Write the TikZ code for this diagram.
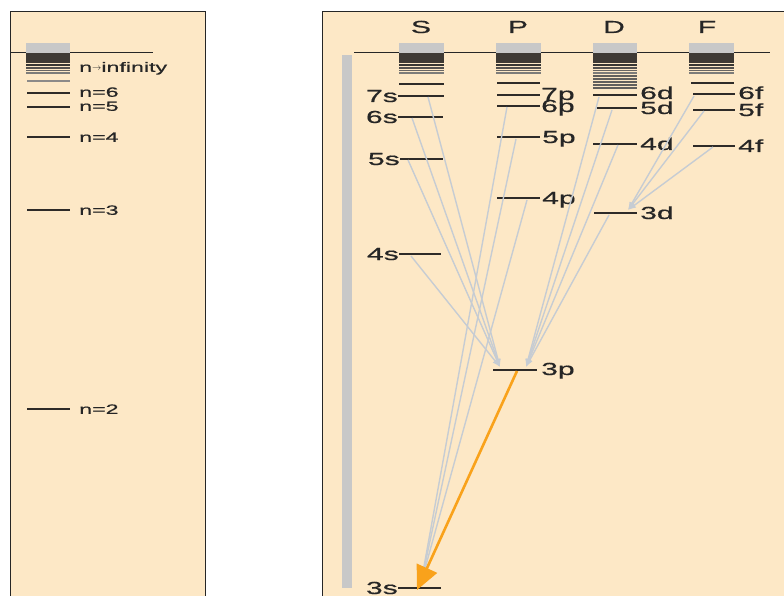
\documentclass[tikz,border=0pt]{standalone}
\usepackage{fontspec}
\setmainfont{Liberation Sans}[FakeStretch=1.72, FakeBold=0.6]
\usetikzlibrary{arrows.meta}
\definecolor{cream}{HTML}{FDE8C6}
\definecolor{boxgray}{HTML}{C8C8C8}
\definecolor{banddark}{HTML}{3E3934}
\definecolor{levc}{HTML}{2E2B28}
\definecolor{trans}{HTML}{C6CCD3}
\definecolor{orng}{HTML}{F9A21B}

% draws the continuum block of one column: grey cap, dark band, fading stripes
\newcommand\contband[2]{%
  \fill[boxgray] (#1,43) rectangle (#2,53);
  \fill[banddark] (#1,53) rectangle (#2,63);
  \draw[line width=1.5pt, draw=levc!95] (#1,65.2) -- (#2,65.2);
  \draw[line width=1.5pt, draw=levc!82] (#1,67.8) -- (#2,67.8);
  \draw[line width=1.5pt, draw=levc!72] (#1,70.4) -- (#2,70.4);
  \draw[line width=1.5pt, draw=levc!62] (#1,73.0) -- (#2,73.0);
}

\tikzset{
  panel/.style={fill=cream, draw=black!85, line width=1pt},
  lev/.style={draw=levc, line width=1.5pt},
  big/.style={font=\fontsize{17.5}{20}\selectfont, inner sep=0pt, text=black!85},
  small/.style={font=\fontsize{13.5}{16}\selectfont, inner sep=0pt, text=black!85},
  rlab/.style={big, anchor=base west, yshift=-6pt},
  slab/.style={big, anchor=base east, yshift=-6pt},
  hlab/.style={big, anchor=base, yshift=-6pt},
  nlab/.style={small, anchor=base west, yshift=-4.8pt},
  trline/.style={draw=trans, line width=1.4pt, -{Latex[length=8pt,width=6pt]}},
  emitline/.style={draw=orng, line width=2.6pt, -{Triangle[length=24pt,width=22pt]}},
}

\begin{document}
\begin{tikzpicture}[x=1pt, y=-1pt]
\useasboundingbox (0,0) rectangle (784,596);
\clip (0,0) rectangle (784,596);

% ---------- hydrogen-like panel ----------
\draw[panel] (10,12) rectangle (205,640);
\draw[line width=1pt, black!85] (10,53) -- (153,53);
\contband{26}{70}
\draw[line width=1.5pt, draw=levc!55] (27,81) -- (70,81);
\draw[lev] (27,93) -- (70,93);
\draw[lev] (27,107) -- (70,107);
\draw[lev] (27,137) -- (70,137);
\draw[lev] (27,210) -- (70,210);
\draw[lev] (27,409) -- (70,409);
\node[nlab] (ninf) at (79,67) {n\raisebox{0.2ex}{$\scriptstyle\rightarrow$}infinity};
\node[nlab] (n6) at (79,92) {n=6};
\node[nlab] (n5) at (79,106) {n=5};
\node[nlab] (n4) at (79,137) {n=4};
\node[nlab] (n3) at (79,210) {n=3};
\node[nlab] (n2) at (79,409) {n=2};

% ---------- sodium panel ----------
\draw[panel] (322,12) rectangle (820,640);
\draw[line width=1pt, black!85] (354,53) -- (770,53);
\fill[boxgray] (342,55) rectangle (352,588);

\node[hlab] (hS) at (421,27) {S};
\node[hlab] (hP) at (518,27) {P};
\node[hlab] (hD) at (614,27) {D};
\node[hlab] (hF) at (707,27) {F};

% S column
\contband{399}{444}
\draw[lev] (399,84) -- (444,84);
\draw[lev] (398,96) -- (444,96);
\draw[lev] (398,117) -- (443,117);
\draw[lev] (400,159) -- (443,159);
\draw[lev] (399,254) -- (441,254);
\draw[lev] (398,588) -- (441,588);
\node[slab] (l7s) at (398,96) {7s};
\node[slab] (l6s) at (398,117) {6s};
\node[slab] (l5s) at (400,159) {5s};
\node[slab] (l4s) at (399,254) {4s};
\node[slab] (l3s) at (398,588) {3s};

% P column
\contband{496}{541}
\draw[lev] (497,83) -- (540,83);
\draw[lev] (497,95) -- (540,95);
\draw[lev] (497,106) -- (540,106);
\draw[lev] (497,137) -- (540,137);
\draw[lev] (497,198) -- (540,198);
\draw[lev] (493,370) -- (537,370);
\node[rlab] (l7p) at (541,94) {7p};
\node[rlab] (l6p) at (541,106) {6p};
\node[rlab] (l5p) at (542,137) {5p};
\node[rlab] (l4p) at (542,198) {4p};
\node[rlab] (l3p) at (541,369) {3p};

% D column
\contband{593}{637}
\foreach \yy in {76,79,82,85,88}
  \draw[line width=1.4pt, draw=levc!75] (593,\yy) -- (637,\yy);
\draw[lev] (593,95) -- (637,95);
\draw[lev] (597,108) -- (637,108);
\draw[lev] (593,144) -- (637,144);
\draw[lev] (594,213) -- (637,213);
\node[rlab] (l6d) at (640,93) {6d};
\node[rlab] (l5d) at (640,108) {5d};
\node[rlab] (l4d) at (640,144) {4d};
\node[rlab] (l3d) at (640,213) {3d};

% F column
\contband{689}{734}
\draw[lev] (691,83) -- (734,83);
\draw[lev] (693,94) -- (735,94);
\draw[lev] (693,110) -- (735,110);
\draw[lev] (693,146) -- (735,146);
\node[rlab] (l6f) at (738,93) {6f};
\node[rlab] (l5f) at (738,110) {5f};
\node[rlab] (l4f) at (738,146) {4f};

% ---------- transitions ----------
\coordinate (s7) at (428,97);
\coordinate (s6) at (412,118);
\coordinate (s5) at (408,160);
\coordinate (s4) at (411,256);
\coordinate (p6) at (507,107);
\coordinate (p5) at (516,139);
\coordinate (p4) at (527,200);
\coordinate (p3) at (517,371);
\coordinate (d6) at (599,97);
\coordinate (d5) at (612,110);
\coordinate (d4) at (618,145);
\coordinate (d3) at (609,215);
\coordinate (f6) at (694,96);
\coordinate (f5) at (704,111);
\coordinate (f4) at (713,147);
\coordinate (tipPa) at (500,367);
\coordinate (tipPb) at (526,367);
\coordinate (tipS) at (421,583);
\coordinate (tipD) at (628,210);
\coordinate (tipO) at (417,590);

\foreach \src in {s7,s6,s5,s4} \draw[trline] (\src) -- (tipPa);
\foreach \src in {d6,d5,d4,d3} \draw[trline] (\src) -- (tipPb);
\foreach \src in {f6,f5,f4} \draw[trline] (\src) -- (tipD);
\foreach \src in {p6,p5,p4} \draw[trline] (\src) -- (tipS);
\draw[emitline] (p3) -- (tipO);
\end{tikzpicture}
\end{document}
